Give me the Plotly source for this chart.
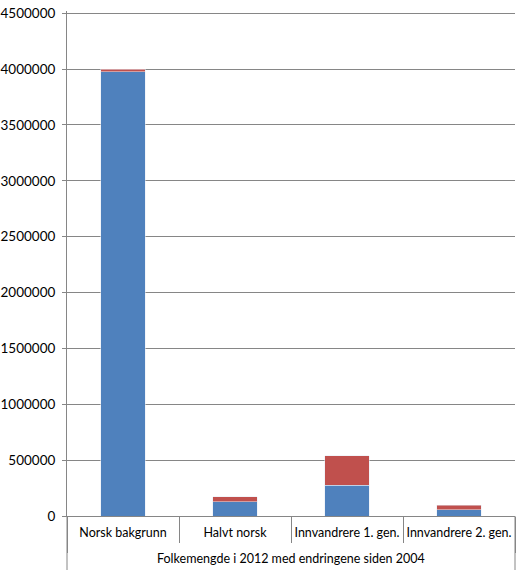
import plotly.graph_objects as go

group_label = "Folkemengde i 2012 med endringene siden 2004"
categories = ["Norsk bakgrunn", "Halvt norsk", "Innvandrere 1. gen.", "Innvandrere 2. gen."]
population_2004 = [3975000, 128000, 277000, 55000]
change_since_2004 = [25000, 45000, 262000, 43000]

# outer level left blank, the group title is drawn as an annotation below
x = [[" "] * len(categories), categories]

fig = go.Figure()
fig.add_trace(go.Bar(x=x, y=population_2004, marker_color="#4F81BD", name="2004"))
fig.add_trace(go.Bar(x=x, y=change_since_2004, marker_color="#C0504D", name="Endring"))

fig.update_layout(
    barmode="stack",
    bargap=0.6,
    width=529,
    height=574,
    margin=dict(l=67, r=14, t=11, b=58),
    plot_bgcolor="white",
    paper_bgcolor="white",
    showlegend=False,
    font=dict(family="Lato", size=12.5, color="black"),
)
fig.add_annotation(
    text=group_label, xref="paper", yref="paper", x=0.5, y=0,
    yshift=-42, yanchor="middle", showarrow=False,
)
# outer frame lines left and right of the category labels
for edge in (0, 1):
    fig.add_shape(
        type="line", xref="paper", yref="paper", x0=edge, x1=edge,
        y0=0, y1=-54 / 505, line=dict(color="#868686", width=1),
    )

fig.update_yaxes(
    range=[0, 4520000],
    tick0=0,
    dtick=500000,
    tickformat="d",
    tickfont=dict(size=13.5),
    ticklabelstandoff=4,
    automargin=False,
    showgrid=True,
    gridcolor="#868686",
    gridwidth=1,
    showline=True,
    linecolor="#868686",
    ticks="outside",
    ticklen=4,
    tickcolor="#868686",
    zeroline=False,
)
fig.update_xaxes(
    type="multicategory",
    automargin=False,
    tickangle=0,
    ticklabelstandoff=5,
    showline=True,
    linecolor="#868686",
    ticks="outside",
    ticklen=26,
    tickcolor="#868686",
    showdividers=True,
    dividercolor="#868686",
    dividerwidth=1,
)

# drop the default 8px page margin so the figure sits at the window corner
fig.write_html(
    "out.html",
    config={"displayModeBar": False},
    post_script="document.body.style.margin = '0';",
)
